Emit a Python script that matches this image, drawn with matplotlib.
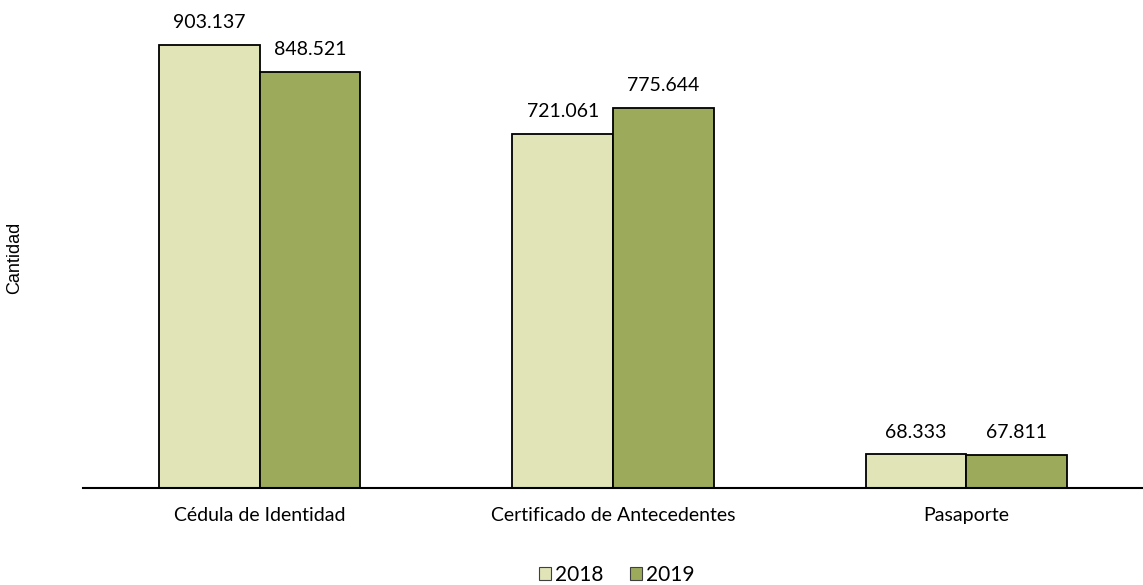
import matplotlib
matplotlib.use('Agg')
import matplotlib.pyplot as plt
import numpy as np

categorias = ['Cédula de Identidad', 'Certificado de Antecedentes', 'Pasaporte']
valores_2018 = [903137, 721061, 68333]
valores_2019 = [848521, 775644, 67811]
etiquetas_2018 = ['903.137', '721.061', '68.333']
etiquetas_2019 = ['848.521', '775.644', '67.811']

color_2018 = '#E0E4B7'
color_2019 = '#9BAB5B'

plt.rcParams['font.family'] = ['Lato', 'DejaVu Sans']

fig = plt.figure(figsize=(11.43, 5.85), dpi=100)
ax = fig.add_axes([83/1143, 97/585, 1 - 83/1143, (488-20)/585])

x = np.arange(len(categorias))
ancho = 0.285

b1 = ax.bar(x - ancho/2, valores_2018, ancho, color=color_2018, edgecolor='black', linewidth=1.3, label='2018')
b2 = ax.bar(x + ancho/2, valores_2019, ancho, color=color_2019, edgecolor='black', linewidth=1.3, label='2019')

# etiquetas de valor sobre cada barra
for barras, etiquetas in ((b1, etiquetas_2018), (b2, etiquetas_2019)):
    for b, t in zip(barras, etiquetas):
        ax.annotate(t, (b.get_x() + b.get_width()/2, b.get_height()),
                    xytext=(0, 10), textcoords='offset points',
                    ha='center', va='bottom', fontsize=14)

ax.set_xlim(-0.5, 2.5)
ax.set_ylim(0, 903137 * 468 / 443)
ax.set_yticks([])
ax.set_xticks(x)
ax.set_xticklabels(categorias, fontsize=14)
ax.tick_params(axis='x', length=0, pad=14)
for s in ('top', 'right', 'left'):
    ax.spines[s].set_visible(False)
ax.spines['bottom'].set_linewidth(1.5)

fig.text(15/1143, 1 - 258/585, 'Cantidad', rotation=90, ha='center', va='center',
         fontsize=13, family=['Liberation Sans', 'DejaVu Sans'])

leg = fig.legend(handles=[b1, b2], labels=['2018', '2019'], loc='center',
                 bbox_to_anchor=(617/1143, 1 - 575/585), ncol=2, frameon=False,
                 fontsize=15, handlelength=0.55, handleheight=0.55, handletextpad=0.2,
                 columnspacing=1.3, borderpad=0)
for h in leg.legend_handles:
    h.set_linewidth(0.8)
    h.set_edgecolor('#404040')

fig.savefig('out.png', dpi=100)
